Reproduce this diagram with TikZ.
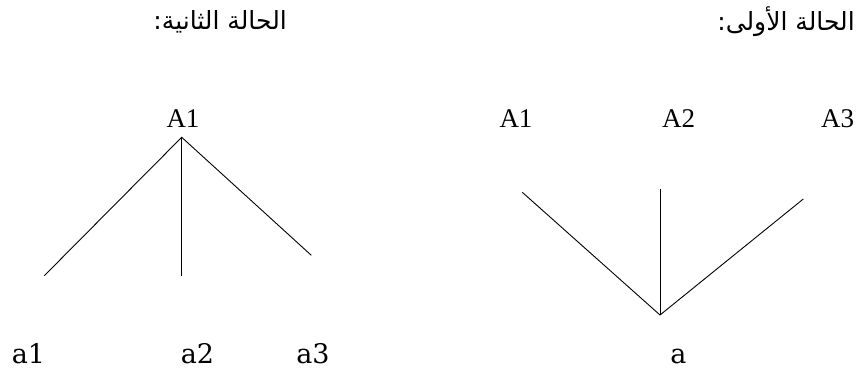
\documentclass[tikz,border=0pt]{standalone}
\usepackage{fontspec}
\setmainfont{Liberation Serif}
\newfontfamily\arabicfont[Script=Arabic]{DejaVu Sans}
\newfontfamily\lowfont{DejaVu Serif}
\TeXXeTstate=1
\begin{document}
\begin{tikzpicture}[x=1pt,y=-1pt,
  upper/.style={font=\fontsize{27}{31}\selectfont, anchor=base, inner sep=0pt},
  lower/.style={font=\lowfont\fontsize{27}{32}\selectfont, anchor=base, inner sep=0pt},
  title/.style={font=\arabicfont\fontsize{25}{30}\selectfont, anchor=base east, inner sep=0pt},
  edge/.style={line width=0.9pt}]
\useasboundingbox[fill=white] (0,0) rectangle (860,374);

% titles
\node[title] (t2) at (287,30) {\beginR الحالة الثانية:\endR};
\node[title] (t1) at (855,31) {\beginR الحالة الأولى:\endR};

% left tree (second case)
\node[upper] (LA1) at (183,128) {A1};
\node[lower] (la1) at (28.5,363) {a1};
\node[lower] (la2) at (197.5,363) {a2};
\node[lower] (la3) at (313,363) {a3};
\coordinate (Lapex) at (181.7,137.3);
\coordinate (Lend1) at (44.3,275.7);
\coordinate (Lend2) at (181.7,275.7);
\coordinate (Lend3) at (311.3,255.3);
\draw[edge] (Lend1) -- (Lapex) -- (Lend3);
\draw[edge] (Lapex) -- (Lend2);

% right tree (first case)
\node[upper] (RA1) at (516,128) {A1};
\node[upper] (RA2) at (678.5,128) {A2};
\node[upper] (RA3) at (837.5,128) {A3};
\node[lower] (ra) at (678.5,363) {a};
\coordinate (Rapex) at (660,315);
\coordinate (Rend1) at (522.3,192.3);
\coordinate (Rend2) at (660,189.3);
\coordinate (Rend3) at (803.3,199);
\draw[edge] (Rend1) -- (Rapex) -- (Rend3);
\draw[edge] (Rapex) -- (Rend2);
\end{tikzpicture}
\end{document}
